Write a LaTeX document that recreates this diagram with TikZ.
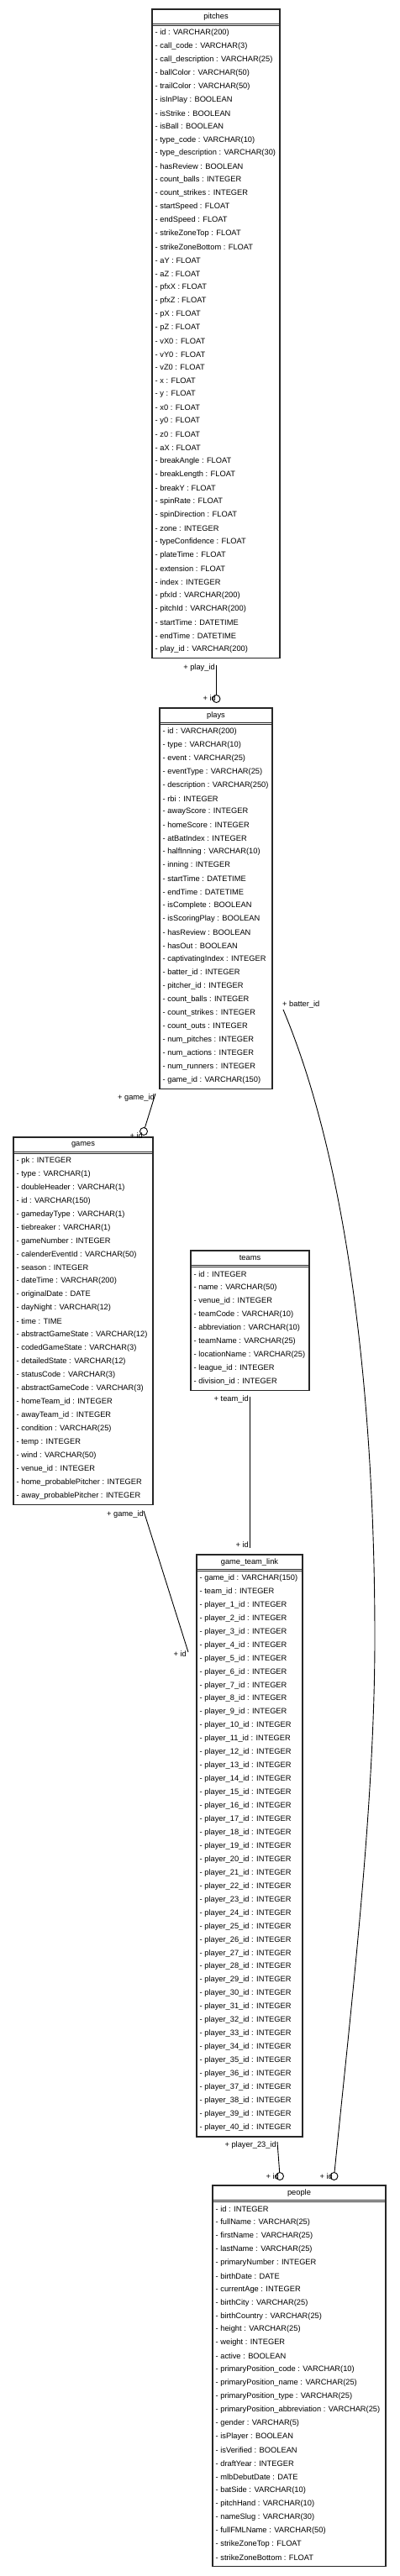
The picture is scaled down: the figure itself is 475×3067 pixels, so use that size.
\documentclass[tikz,border=0pt]{standalone}
\usepackage{fontspec}
\setmainfont{Liberation Sans}
\usetikzlibrary{calc}
\newcommand\mktable[7]{% name, title, left, right, top, n rows, rows
  \pgfmathsetmacro\tblw{#4-#3}%
  \pgfmathsetmacro\tblh{39+(#6-1)*15.95}%
  \node[tbl, minimum width=\tblw pt, minimum height=\tblh pt, anchor=north west] (#1) at (#3,#5) {};
  \node[ttl] (#1-title) at ([yshift=-9pt]#1.north) {#2};
  \draw[sepline] ([yshift=-17.6pt]#1.north west) -- ([yshift=-17.6pt]#1.north east);
  \draw[sepline] ([yshift=-19.8pt]#1.north west) -- ([yshift=-19.8pt]#1.north east);
  \foreach \rowt [count=\i] in {#7} {
    \pgfmathsetmacro\rowy{#5+28+(\i-1)*15.95}
    \node[rowtxt] (#1-\i) at (#3+3.5,\rowy) {- \rowt};
  }
}
\begin{document}
\begin{tikzpicture}[x=1pt,y=-1pt,
  tbl/.style={draw=black!85, line width=1.1pt, inner sep=0pt, outer sep=0pt},
  sepline/.style={draw=black!85, line width=0.9pt},
  ttl/.style={inner sep=0pt, font=\fontsize{9.3}{11}\selectfont},
  rowtxt/.style={anchor=west, inner sep=0pt, font=\fontsize{9.3}{11}\selectfont},
  lbl/.style={inner sep=0pt, font=\fontsize{9.3}{11}\selectfont},
  conn/.style={draw=black, line width=0.9pt},
  odot/.style={draw=black, line width=0.9pt}]
\fill[white] (0,0) rectangle (475,3067);
\useasboundingbox (0,0) rectangle (475,3067);

\mktable{pitches}{pitches}{181}{333}{11}{47}{id : VARCHAR(200), call\_code : VARCHAR(3), call\_description : VARCHAR(25), ballColor : VARCHAR(50), trailColor : VARCHAR(50), isInPlay : BOOLEAN, isStrike : BOOLEAN, isBall : BOOLEAN, type\_code : VARCHAR(10), type\_description : VARCHAR(30), hasReview : BOOLEAN, count\_balls : INTEGER, count\_strikes : INTEGER, startSpeed : FLOAT, endSpeed : FLOAT, strikeZoneTop : FLOAT, strikeZoneBottom : FLOAT, aY : FLOAT, aZ : FLOAT, pfxX : FLOAT, pfxZ : FLOAT, pX : FLOAT, pZ : FLOAT, vX0 : FLOAT, vY0 : FLOAT, vZ0 : FLOAT, x : FLOAT, y : FLOAT, x0 : FLOAT, y0 : FLOAT, z0 : FLOAT, aX : FLOAT, breakAngle : FLOAT, breakLength : FLOAT, breakY : FLOAT, spinRate : FLOAT, spinDirection : FLOAT, zone : INTEGER, typeConfidence : FLOAT, plateTime : FLOAT, extension : FLOAT, index : INTEGER, pfxId : VARCHAR(200), pitchId : VARCHAR(200), startTime : DATETIME, endTime : DATETIME, play\_id : VARCHAR(200)}

\mktable{plays}{plays}{190}{324}{843}{27}{id : VARCHAR(200), type : VARCHAR(10), event : VARCHAR(25), eventType : VARCHAR(25), description : VARCHAR(250), rbi : INTEGER, awayScore : INTEGER, homeScore : INTEGER, atBatIndex : INTEGER, halfInning : VARCHAR(10), inning : INTEGER, startTime : DATETIME, endTime : DATETIME, isComplete : BOOLEAN, isScoringPlay : BOOLEAN, hasReview : BOOLEAN, hasOut : BOOLEAN, captivatingIndex : INTEGER, batter\_id : INTEGER, pitcher\_id : INTEGER, count\_balls : INTEGER, count\_strikes : INTEGER, count\_outs : INTEGER, num\_pitches : INTEGER, num\_actions : INTEGER, num\_runners : INTEGER, game\_id : VARCHAR(150)}

\mktable{games}{games}{16}{182}{1354}{26}{pk : INTEGER, type : VARCHAR(1), doubleHeader : VARCHAR(1), id : VARCHAR(150), gamedayType : VARCHAR(1), tiebreaker : VARCHAR(1), gameNumber : INTEGER, calenderEventId : VARCHAR(50), season : INTEGER, dateTime : VARCHAR(200), originalDate : DATE, dayNight : VARCHAR(12), time : TIME, abstractGameState : VARCHAR(12), codedGameState : VARCHAR(3), detailedState : VARCHAR(12), statusCode : VARCHAR(3), abstractGameCode : VARCHAR(3), homeTeam\_id : INTEGER, awayTeam\_id : INTEGER, condition : VARCHAR(25), temp : INTEGER, wind : VARCHAR(50), venue\_id : INTEGER, home\_probablePitcher : INTEGER, away\_probablePitcher : INTEGER}

\mktable{teams}{teams}{227}{368}{1489}{9}{id : INTEGER, name : VARCHAR(50), venue\_id : INTEGER, teamCode : VARCHAR(10), abbreviation : VARCHAR(10), teamName : VARCHAR(25), locationName : VARCHAR(25), league\_id : INTEGER, division\_id : INTEGER}

\mktable{gtl}{game\_team\_link}{234}{360}{1851}{42}{game\_id : VARCHAR(150), team\_id : INTEGER, player\_1\_id : INTEGER, player\_2\_id : INTEGER, player\_3\_id : INTEGER, player\_4\_id : INTEGER, player\_5\_id : INTEGER, player\_6\_id : INTEGER, player\_7\_id : INTEGER, player\_8\_id : INTEGER, player\_9\_id : INTEGER, player\_10\_id : INTEGER, player\_11\_id : INTEGER, player\_12\_id : INTEGER, player\_13\_id : INTEGER, player\_14\_id : INTEGER, player\_15\_id : INTEGER, player\_16\_id : INTEGER, player\_17\_id : INTEGER, player\_18\_id : INTEGER, player\_19\_id : INTEGER, player\_20\_id : INTEGER, player\_21\_id : INTEGER, player\_22\_id : INTEGER, player\_23\_id : INTEGER, player\_24\_id : INTEGER, player\_25\_id : INTEGER, player\_26\_id : INTEGER, player\_27\_id : INTEGER, player\_28\_id : INTEGER, player\_29\_id : INTEGER, player\_30\_id : INTEGER, player\_31\_id : INTEGER, player\_32\_id : INTEGER, player\_33\_id : INTEGER, player\_34\_id : INTEGER, player\_35\_id : INTEGER, player\_36\_id : INTEGER, player\_37\_id : INTEGER, player\_38\_id : INTEGER, player\_39\_id : INTEGER, player\_40\_id : INTEGER}

\mktable{people}{people}{253}{459}{2602}{27}{id : INTEGER, fullName : VARCHAR(25), firstName : VARCHAR(25), lastName : VARCHAR(25), primaryNumber : INTEGER, birthDate : DATE, currentAge : INTEGER, birthCity : VARCHAR(25), birthCountry : VARCHAR(25), height : VARCHAR(25), weight : INTEGER, active : BOOLEAN, primaryPosition\_code : VARCHAR(10), primaryPosition\_name : VARCHAR(25), primaryPosition\_type : VARCHAR(25), primaryPosition\_abbreviation : VARCHAR(25), gender : VARCHAR(5), isPlayer : BOOLEAN, isVerified : BOOLEAN, draftYear : INTEGER, mlbDebutDate : DATE, batSide : VARCHAR(10), pitchHand : VARCHAR(10), nameSlug : VARCHAR(30), fullFMLName : VARCHAR(50), strikeZoneTop : FLOAT, strikeZoneBottom : FLOAT}

% pitches -> plays (play_id)
\coordinate (c1t) at (257.5,792);
\coordinate (c1c) at (257.5,832);
\coordinate (c1h) at (257.5,827.5);
\draw[conn] (c1t) -- (c1h);
\draw[odot] (c1c) circle[radius=4.5pt];
\node[lbl, anchor=east] (l1t) at (256,795) {+ play\_id};
\node[lbl, anchor=east] (l1h) at (257,831.5) {+ id};

% plays -> games (game_id)
\coordinate (c2t) at (185,1302);
\coordinate (c2c) at (171,1347);
\coordinate (c2h) at (172.4,1342.7);
\draw[conn] (c2t) -- (c2h);
\draw[odot] (c2c) circle[radius=4.5pt];
\node[lbl, anchor=east] (l2t) at (184,1307) {+ game\_id};
\node[lbl, anchor=east] (l2h) at (170,1352) {+ id};

% games -> game_team_link (game_id)
\coordinate (c3t) at (171,1799);
\coordinate (c3h) at (224,1967);
\draw[conn] (c3t) -- (c3h);
\node[lbl, anchor=east] (l3t) at (171,1803) {+ game\_id};
\node[lbl, anchor=east] (l3h) at (222,1969) {+ id};

% teams -> game_team_link (team_id)
\coordinate (c4t) at (297,1663);
\coordinate (c4h) at (297,1843);
\draw[conn] (c4t) -- (c4h);
\node[lbl, anchor=east] (l4t) at (296,1666) {+ team\_id};
\node[lbl, anchor=east] (l4h) at (296,1839) {+ id};

% game_team_link -> people (player_23_id)
\coordinate (c5t) at (330,2550);
\coordinate (c5c) at (333,2591);
\coordinate (c5h) at (332.7,2586.5);
\draw[conn] (c5t) -- (c5h);
\draw[odot] (c5c) circle[radius=4.5pt];
\node[lbl, anchor=east] (l5t) at (329,2554) {+ player\_23\_id};
\node[lbl, anchor=east] (l5h) at (332,2591) {+ id};

% plays -> people (batter_id)
\coordinate (c6t) at (337,1202);
\coordinate (c6m) at (446,1950);
\coordinate (c6c) at (397.5,2591);
\coordinate (c6h) at (398,2586.5);
\draw[conn] (c6t) .. controls (421,1402) and (446,1700) .. (c6m)
  .. controls (446,2150) and (418,2386.5) .. (c6h);
\draw[odot] (c6c) circle[radius=4.5pt];
\node[lbl, anchor=west] (l6t) at (336,1196) {+ batter\_id};
\node[lbl, anchor=east] (l6h) at (396,2591) {+ id};
\end{tikzpicture}
\end{document}
